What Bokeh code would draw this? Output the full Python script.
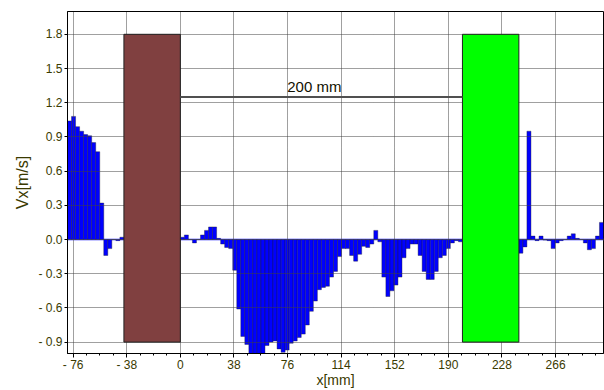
from bokeh.plotting import figure
from bokeh.models import Range1d, FixedTicker, ColumnDataSource
from bokeh.embed import file_html
from bokeh.resources import INLINE

# ---------------- data ----------------
x_lo, x_hi = -80, 300
y_lo, y_hi = -1.0, 2.0
bar_pitch = 40 / 14  # mm

seg_left_start = -80
left_values = [1.04, 1.08, 0.99, 0.95, 0.92, 0.91, 0.85, 0.77, 0.32, -0.14,
               -0.08, 0.0, -0.01, 0.02]

seg_mid_start = 0
mid_values = [0.02, 0.04, 0.0, -0.03, 0.0, 0.04, 0.08, 0.11, 0.11, 0.01,
              -0.04, -0.07, -0.08, -0.27, -0.61, -0.85, -0.92, -1.04, -1.05, -1.04,
              -1.01, -0.93, -0.90, -0.89, -0.96, -0.99, -0.97, -0.91, -0.89, -0.86,
              -0.83, -0.75, -0.63, -0.54, -0.44, -0.42, -0.41, -0.33, -0.28, -0.15,
              -0.08, -0.08, -0.14, -0.19, -0.13, -0.06, -0.07, -0.04, 0.08, -0.02,
              -0.33, -0.50, -0.45, -0.40, -0.33, -0.16, -0.08, -0.04, -0.04, -0.14,
              -0.28, -0.35, -0.35, -0.28, -0.16, -0.14, -0.08, -0.03, -0.01, -0.02]

seg_right_start = 240
right_values = [-0.12, -0.065, 0.95, 0.03, -0.01, 0.03, -0.005, -0.01, -0.08, -0.03,
                -0.01, 0.0, 0.03, 0.05, 0.01, 0.0, -0.03, -0.09, -0.08, 0.03, 0.15]

zone_left = [-40, 200]
zone_right = [0, 240]
zone_bottom = [-0.9, -0.9]
zone_top = [1.8, 1.8]
zone_colors = ["#804040", "#00FF00"]

dim_x0, dim_x1, dim_y = 0, 200, 1.25
dim_label = "200 mm"
dim_label_x, dim_label_y = 95, 1.345

x_ticks = [-76, -38, 0, 38, 76, 114, 152, 190, 228, 266]
x_tick_labels = ["- 76", "- 38", "0", "38", "76", "114", "152", "190", "228", "266"]
x_minor_step = 9.5
y_ticks = [-0.9, -0.6, -0.3, 0.0, 0.3, 0.6, 0.9, 1.2, 1.5, 1.8]
y_tick_labels = ["- 0.9", "- 0.6", "- 0.3", "0.0", "0.3", "0.6", "0.9", "1.2", "1.5", "1.8"]

x_title = "x[mm]"
y_title = "Vx[m/s]"

# ---------------- build ----------------
xs, vals = [], []
for start, values in [(seg_left_start, left_values), (seg_mid_start, mid_values),
                      (seg_right_start, right_values)]:
    for i, v in enumerate(values):
        xs.append(start + bar_pitch * (i + 0.5))
        vals.append(v)
bars = ColumnDataSource(dict(x=xs, top=vals))

minor = []
t = x_ticks[0]
while t < x_hi:
    if t not in x_ticks and t > x_lo:
        minor.append(t)
    t += x_minor_step

p = figure(width=604, height=390, output_backend="svg", toolbar_location=None,
           x_range=Range1d(x_lo, x_hi), y_range=Range1d(y_lo, y_hi),
           min_border_left=67, min_border_right=1, min_border_top=11, min_border_bottom=37)
p.background_fill_color = "white"
p.border_fill_color = "white"
p.outline_line_color = "black"
p.outline_line_width = 1

# zero line and bars (under grid)
p.line(x=[x_lo, x_hi], y=[0, 0], line_color="#8c8cff", line_width=2, level="image")
p.vbar(x="x", top="top", bottom=0, width=bar_pitch, source=bars,
       fill_color="#0000FF", line_color="#1a1a2a", line_alpha=0.55, line_width=0.7,
       level="image")

# zones
p.quad(left=zone_left, right=zone_right, bottom=zone_bottom, top=zone_top,
       fill_color=zone_colors, line_color="#202020", line_width=1)

# dimension line
p.line(x=[dim_x0, dim_x1], y=[dim_y, dim_y], line_color="#505050", line_width=2)
p.text(x=[dim_label_x], y=[dim_label_y], text=[dim_label], text_align="center",
       text_baseline="alphabetic", text_font_size="15px", text_color="#111100",
       text_font={"value": "Liberation Sans"})

# axes
lab_col = "#3a3a00"
p.xaxis.ticker = FixedTicker(ticks=x_ticks, minor_ticks=minor)
p.xaxis.major_label_overrides = {k: v for k, v in zip(x_ticks, x_tick_labels)}
p.yaxis.ticker = FixedTicker(ticks=y_ticks, minor_ticks=[])
p.yaxis.major_label_overrides = {k: v for k, v in zip(y_ticks, y_tick_labels)}

for ax in (p.xaxis[0], p.yaxis[0]):
    ax.axis_line_color = "black"
    ax.axis_line_width = 1
    ax.major_tick_line_color = "black"
    ax.minor_tick_line_color = "black"
    ax.major_tick_in = 0
    ax.minor_tick_in = 0
    ax.major_label_text_font = "Liberation Sans"
    ax.major_label_text_font_size = "12px"
    ax.major_label_text_color = lab_col
    ax.axis_label_text_font = "Liberation Sans"
    ax.axis_label_text_font_size = "14px"
    ax.axis_label_text_font_style = "normal"
    ax.axis_label_text_color = lab_col

p.xaxis.major_tick_out = 4
p.xaxis.minor_tick_out = 2
p.xaxis.major_label_standoff = 0
p.xaxis.axis_label = x_title
p.xaxis.axis_label_standoff = -3

p.yaxis.major_tick_out = 3
p.yaxis.minor_tick_out = 0
p.yaxis.major_label_standoff = 2
p.yaxis.axis_label = y_title
p.yaxis.axis_label_text_font_size = "16px"
p.yaxis.axis_label_standoff = 4

for g in (p.xgrid[0], p.ygrid[0]):
    g.grid_line_color = "#404040"
    g.grid_line_dash = "1 1"
    g.grid_line_width = 1

open("out.html", "w").write(file_html(p, INLINE))
